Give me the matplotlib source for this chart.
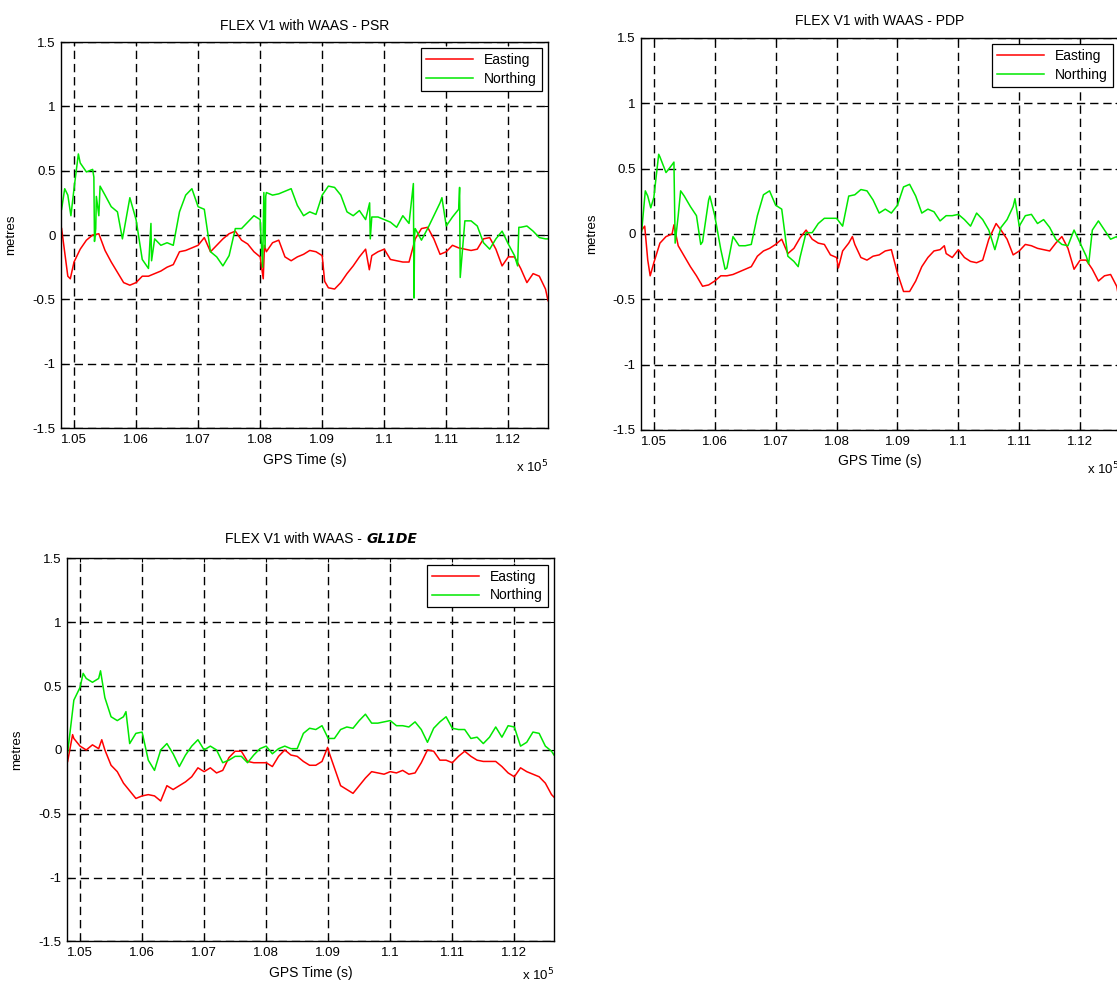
import numpy as np
import matplotlib
matplotlib.use('Agg')
import matplotlib.pyplot as plt
from matplotlib.ticker import FuncFormatter, MultipleLocator

plt.rcParams['font.family'] = ['Liberation Sans', 'DejaVu Sans']
plt.rcParams['axes.unicode_minus'] = False

# sample times (s), one reading every 100 s
t_base = np.arange(104800, 112601, 100)

# FLEX V1 with WAAS - PSR
psr_east = [0.05, -0.32, -0.21, -0.11, -0.04, 0.00, 0.01, -0.12, -0.21, -0.29,
            -0.37, -0.39, -0.37, -0.32, -0.32, -0.30, -0.28, -0.25, -0.23, -0.13,
            -0.12, -0.10, -0.08, -0.02, -0.13, -0.08, -0.03, 0.01, 0.03, -0.04,
            -0.07, -0.13, -0.17, -0.13, -0.06, -0.04, -0.17, -0.20, -0.17, -0.15,
            -0.12, -0.13, -0.16, -0.41, -0.42, -0.37, -0.30, -0.24, -0.17, -0.11,
            -0.16, -0.13, -0.11, -0.19, -0.20, -0.21, -0.21, -0.03, 0.05, 0.06,
            -0.03, -0.15, -0.13, -0.08, -0.10, -0.11, -0.12, -0.11, -0.03, -0.02,
            -0.11, -0.24, -0.17, -0.17, -0.26, -0.37, -0.30, -0.32, -0.42]
psr_north = [0.20, 0.31, 0.36, 0.56, 0.49, 0.51, 0.15, 0.31, 0.22, 0.18,
             0.02, 0.29, 0.12, -0.19, -0.26, -0.03, -0.08, -0.06, -0.08, 0.18,
             0.31, 0.36, 0.22, 0.20, -0.13, -0.17, -0.24, -0.16, 0.05, 0.05,
             0.10, 0.15, 0.12, 0.33, 0.31, 0.32, 0.34, 0.36, 0.23, 0.15,
             0.18, 0.16, 0.31, 0.38, 0.37, 0.31, 0.18, 0.15, 0.19, 0.12,
             0.14, 0.14, 0.12, 0.10, 0.06, 0.15, 0.09, 0.05, -0.04, 0.05,
             0.15, 0.25, 0.07, 0.14, 0.20, 0.11, 0.11, 0.07, -0.06, -0.11,
             -0.03, 0.03, -0.07, -0.16, 0.06, 0.07, 0.03, -0.02, -0.03]
# extra readings (spikes / sharp turns)
psr_east_xt = [104940, 109040, 108050, 108070, 109760, 112640]
psr_east_xv = [-0.34, -0.36, -0.34, -0.08, -0.27, -0.51]
psr_north_xt = [104850, 104950, 105070, 105320, 105330, 105350, 105360, 105420,
                105780, 106240, 106250, 108040, 108060, 108080, 108090, 109765,
                109775, 110470, 110480, 110490, 110930, 111215, 111225, 112150,
                112170, 112640]
psr_north_xv = [0.36, 0.15, 0.63, 0.45, -0.05, 0.05, 0.30, 0.38,
                -0.03, 0.09, -0.20, -0.25, 0.33, -0.10, 0.30, 0.25,
                -0.03, 0.40, -0.49, 0.00, 0.29, 0.37, -0.33, -0.24,
                0.06, -0.03]

# FLEX V1 with WAAS - PDP
pdp_east = [0.03, -0.20, -0.22, -0.07, -0.02, 0.00, -0.09, -0.17, -0.25, -0.32,
            -0.40, -0.39, -0.36, -0.32, -0.32, -0.31, -0.29, -0.27, -0.25, -0.17,
            -0.13, -0.11, -0.08, -0.04, -0.15, -0.11, -0.03, 0.03, -0.04, -0.07,
            -0.08, -0.16, -0.18, -0.13, -0.07, -0.08, -0.18, -0.20, -0.17, -0.16,
            -0.13, -0.12, -0.30, -0.44, -0.44, -0.36, -0.25, -0.18, -0.13, -0.12,
            -0.15, -0.18, -0.12, -0.18, -0.21, -0.22, -0.20, -0.04, 0.06, 0.03,
            -0.04, -0.16, -0.13, -0.08, -0.09, -0.11, -0.12, -0.13, -0.07, -0.02,
            -0.11, -0.27, -0.20, -0.20, -0.27, -0.36, -0.32, -0.31, -0.40]
pdp_north = [0.02, 0.29, 0.28, 0.59, 0.47, 0.53, 0.14, 0.29, 0.21, 0.14,
             -0.06, 0.26, 0.14, -0.12, -0.26, -0.02, -0.09, -0.09, -0.08, 0.14,
             0.30, 0.33, 0.22, 0.19, -0.17, -0.21, -0.18, 0.01, 0.01, 0.08,
             0.12, 0.12, 0.12, 0.06, 0.29, 0.30, 0.34, 0.33, 0.26, 0.16,
             0.19, 0.16, 0.22, 0.36, 0.38, 0.29, 0.16, 0.19, 0.17, 0.10,
             0.14, 0.14, 0.15, 0.11, 0.06, 0.16, 0.11, 0.03, -0.12, 0.05,
             0.11, 0.21, 0.06, 0.14, 0.15, 0.08, 0.11, 0.05, -0.04, -0.08,
             -0.09, 0.03, -0.07, -0.17, 0.03, 0.10, 0.03, -0.04, -0.02]
pdp_east_xt = [104850, 104940, 105330, 108030, 108260, 109770, 110620, 112640]
pdp_east_xv = [0.06, -0.32, 0.07, -0.26, -0.02, -0.09, 0.08, -0.50]
pdp_north_xt = [104860, 104950, 105080, 105330, 105350, 105440, 105770, 105920,
                106170, 107370, 110930, 112140, 112640]
pdp_north_xv = [0.33, 0.20, 0.61, 0.55, -0.07, 0.33, -0.08, 0.29,
                -0.27, -0.25, 0.27, -0.23, -0.05]

# FLEX V1 with WAAS - GL1DE
gl_east = [-0.09, 0.09, 0.03, 0.00, 0.04, 0.01, 0.00, -0.12, -0.17, -0.26,
           -0.32, -0.38, -0.36, -0.35, -0.36, -0.40, -0.28, -0.31, -0.28, -0.25,
           -0.21, -0.14, -0.17, -0.14, -0.18, -0.16, -0.06, -0.01, -0.01, -0.09,
           -0.10, -0.10, -0.10, -0.13, -0.05, 0.00, -0.04, -0.05, -0.09, -0.12,
           -0.12, -0.09, 0.00, -0.14, -0.28, -0.31, -0.34, -0.28, -0.22, -0.17,
           -0.18, -0.19, -0.17, -0.18, -0.16, -0.19, -0.18, -0.10, 0.00, -0.01,
           -0.08, -0.08, -0.10, -0.05, -0.01, -0.05, -0.08, -0.09, -0.09, -0.09,
           -0.13, -0.18, -0.21, -0.14, -0.17, -0.19, -0.21, -0.26, -0.35]
gl_north = [-0.02, 0.39, 0.49, 0.56, 0.53, 0.56, 0.41, 0.26, 0.23, 0.26,
            0.05, 0.13, 0.14, -0.08, -0.16, 0.00, 0.05, -0.03, -0.13, -0.04,
            0.03, 0.08, 0.00, 0.03, 0.00, -0.10, -0.08, -0.05, -0.05, -0.10,
            -0.04, 0.01, 0.03, -0.03, 0.01, 0.03, 0.01, 0.01, 0.13, 0.17,
            0.16, 0.19, 0.09, 0.09, 0.16, 0.18, 0.17, 0.23, 0.28, 0.21,
            0.21, 0.22, 0.23, 0.19, 0.19, 0.18, 0.22, 0.16, 0.06, 0.17,
            0.22, 0.26, 0.17, 0.16, 0.16, 0.09, 0.10, 0.05, 0.10, 0.18,
            0.10, 0.19, 0.18, 0.03, 0.06, 0.14, 0.13, 0.03, -0.01]
gl_east_xt = [104880, 105350, 108990, 112640]
gl_east_xv = [0.12, 0.08, 0.02, -0.37]
gl_north_xt = [105050, 105330, 105740, 112640]
gl_north_xv = [0.60, 0.62, 0.30, -0.04]


def merge(base, xt, xv):
    t = np.concatenate([t_base, xt])
    v = np.concatenate([base, xv])
    o = np.argsort(t, kind='stable')
    return t[o], v[o]


def draw(ax, east, north, title=None, exp_y=-0.10):
    ax.plot(*merge(*east), color='#ff0000', lw=1.1, label='Easting')
    ax.plot(*merge(*north), color='#00e800', lw=1.1, label='Northing')
    ax.set_xlim(104790, 112640)
    ax.set_ylim(-1.5, 1.5)
    ax.xaxis.set_major_locator(MultipleLocator(1000))
    ax.yaxis.set_major_locator(MultipleLocator(0.5))
    ax.xaxis.set_major_formatter(FuncFormatter(lambda v, p: '%g' % round(v / 1e5, 4)))
    ax.yaxis.set_major_formatter(FuncFormatter(lambda v, p: '%g' % v))
    ax.tick_params(direction='in', top=True, right=True, length=3, width=0.8,
                   labelsize=9.5, pad=4)
    ax.grid(True, color='k', linestyle=(0, (6, 3.5)), linewidth=1.0)
    for s in ax.spines.values():
        s.set_linewidth(1.0)
    ax.set_xlabel('GPS Time (s)', fontsize=10, labelpad=5)
    ax.set_ylabel('metres', fontsize=9.5)
    ax.yaxis.set_label_coords(-0.09, 0.5)
    ax.text(1.0, exp_y, r'x 10$^5$', transform=ax.transAxes, ha='right',
            va='center', fontsize=9.5)
    if title:
        ax.set_title(title, fontsize=10, pad=9)
    leg = ax.legend(loc='upper right', fontsize=10, handlelength=3.4,
                    fancybox=False, framealpha=1, edgecolor='k',
                    borderaxespad=0.45, labelspacing=0.35, borderpad=0.35)
    leg.get_frame().set_linewidth(0.9)


fig = plt.figure(figsize=(11.17, 9.86), dpi=100)
ax1 = fig.add_axes([0.0546, 0.5659, 0.436, 0.3915])
ax2 = fig.add_axes([0.5739, 0.5639, 0.428, 0.3976])
ax3 = fig.add_axes([0.0600, 0.0452, 0.436, 0.3884])

draw(ax1, (psr_east, psr_east_xt, psr_east_xv), (psr_north, psr_north_xt, psr_north_xv),
     'FLEX V1 with WAAS - PSR')
draw(ax2, (pdp_east, pdp_east_xt, pdp_east_xv), (pdp_north, pdp_north_xt, pdp_north_xv),
     'FLEX V1 with WAAS - PDP')
draw(ax3, (gl_east, gl_east_xt, gl_east_xv), (gl_north, gl_north_xt, gl_north_xv),
     exp_y=-0.088)

# title with the receiver name set in heavy italic
ax3.annotate('FLEX V1 with WAAS - ', xy=(0.614, 1.0), xycoords='axes fraction',
             xytext=(0, 9), textcoords='offset points', ha='right', va='bottom',
             fontsize=10)
ax3.annotate('GL1DE', xy=(0.614, 1.0), xycoords='axes fraction',
             xytext=(0, 9), textcoords='offset points', ha='left', va='bottom',
             fontsize=10, fontweight='bold', style='italic', family='DejaVu Sans')

fig.savefig('out.png', dpi=100)
